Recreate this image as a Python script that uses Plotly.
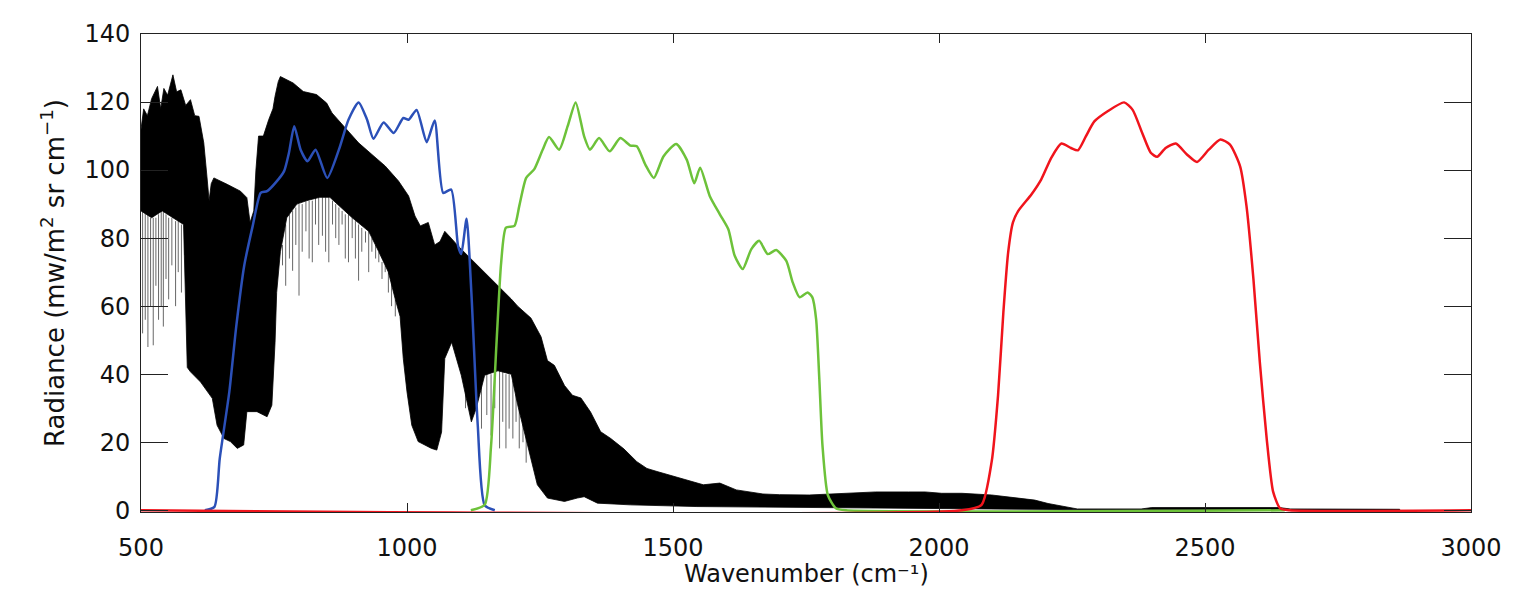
import plotly.graph_objects as go

# --- Black: high-resolution radiance spectrum, drawn as its dense band (upper/lower edges) ---
band_upper_x = [500, 505, 512, 520, 531, 537, 543, 550, 560, 567, 575, 584, 593, 601, 609, 615,
                618, 624, 628, 632, 637, 662, 687, 699, 705, 712, 716, 721, 730, 740, 748, 752,
                758, 762, 774, 786, 805, 830, 849, 859, 884, 909, 934, 959, 984, 1003, 1015,
                1025, 1040, 1052, 1062, 1071, 1083, 1096, 1121, 1146, 1171, 1196, 1208, 1233,
                1252, 1264, 1277, 1296, 1311, 1327, 1345, 1364, 1383, 1408, 1432, 1451, 1470,
                1513, 1557, 1588, 1619, 1669, 1700, 1756, 1819, 1881, 1943, 1974, 2005, 2043,
                2099, 2142, 2180, 2205, 2223, 2242, 2260, 2380, 2400, 2640, 2660, 2866]
band_upper_y = [112, 118, 116, 121, 124.6, 118, 124, 122, 128, 123, 123.6, 119, 120.7, 116, 115.8, 110,
                108, 98, 91, 96, 97.7, 95.8, 93.8, 91.9, 84.6, 88, 100, 110, 110, 114.8, 118, 121.7,
                126, 127.5, 126.5, 125.6, 123.1, 122.2, 119.7, 116.8, 112.4, 108, 104.6, 101.2, 96.8, 92.4, 86.5,
                83.6, 84.6, 78, 79, 82, 80, 77.7, 73.8, 70, 66, 62.1, 60, 56.5,
                51, 44, 42.6, 36.7, 33.8, 33, 28.9, 23.1, 21.1, 18, 14.3, 12.3, 11.4,
                9.4, 7.5, 8, 6, 4.8, 4.6, 4.5, 5, 5.4, 5.4, 5.4, 5, 5,
                4.5, 3.7, 3, 2, 1.5, 0.8, 0.4, 0.4, 0.8, 0.8, 0.4, 0.3]

band_lower_x = [500, 520, 540, 560, 580, 587, 593, 612, 634, 643, 656, 668, 681, 693, 699, 718,
                737, 746, 752, 755, 762, 774, 793, 811, 836, 855, 897, 928, 947, 965, 978, 987,
                993, 1000, 1009, 1021, 1034, 1046, 1056, 1065, 1071, 1084, 1102, 1121, 1130, 1146,
                1171, 1196, 1208, 1233, 1245, 1264, 1296, 1320, 1333, 1358, 1420, 1545, 1700, 2250, 2866]
band_lower_y = [88, 86, 88, 86, 84, 42, 40.7, 37.7, 32.9, 25, 21.1, 20.2, 18.2, 19.2, 29, 29,
                27.5, 30.9, 49.4, 64, 76, 86, 90, 91, 92, 92, 86, 82, 76, 70, 62, 57,
                44.6, 34.8, 25, 20.2, 19.2, 18.2, 17.7, 23, 44.6, 49.4, 39.7, 26, 29.9, 39.7,
                41, 40, 31, 15.3, 7.5, 3.6, 2.6, 3.6, 4, 2.1, 1.6, 1.1, 0.8, 0.2, 0.1]

# Individual deep absorption lines reaching below the dense band: (wavenumber, from, to)
line_x = [503, 508, 513, 518, 523, 528, 533, 538, 542, 547, 552, 558, 565, 570, 576, 582,
          766, 772, 779, 785, 791, 797, 803, 810, 816, 822, 828, 834, 841, 847, 853, 860,
          866, 872, 878, 884, 890, 897, 903, 909, 915, 922, 928, 934, 941, 947, 953, 959,
          965, 971, 978, 1110, 1140, 1150, 1158, 1165, 1174, 1180, 1186, 1192, 1199, 1205,
          1211, 1218, 1224]
line_top = [88, 88, 88, 86, 86, 86, 87, 88, 88, 87, 86, 86, 85, 85, 84, 84,
            78, 84, 87, 88, 89, 90, 90, 91, 91, 91, 92, 92, 92, 92, 92, 91,
            90, 89, 88, 87, 87, 86, 85, 84, 83, 82, 82, 80, 78, 76, 73, 72,
            70, 67, 62, 40, 38, 40, 40, 41, 41, 41, 40, 40, 38, 34,
            30, 26, 22]
line_bottom = [52, 56, 48, 60, 48.5, 66, 56, 60, 54, 68, 62, 72, 60, 70, 64, 75,
               72, 66, 74, 70.4, 78, 63.1, 76, 82, 74, 72.9, 84, 78, 80.7, 76, 72.9, 84,
               80, 78, 84, 74, 72.9, 80, 74, 67.5, 76, 78.7, 70, 76, 74, 72.9, 68, 70,
               64, 60, 57, 30, 24, 28, 22, 30, 18.2, 26, 18.2, 24, 21.1, 26,
               18.2, 20, 14]

# --- Coloured spectral response curves ---
blue_x = [620, 638, 648, 666, 679, 694, 710, 725, 737, 753, 769, 778, 788, 800, 813, 828,
          850, 872, 890, 909, 925, 937, 956, 975, 993, 1003, 1018, 1037, 1052, 1068, 1083,
          1096, 1102, 1112, 1121, 1133, 1146, 1165]
blue_y = [0, 1, 15.2, 34.8, 54, 71.9, 83.6, 93.3, 93.8, 96.3, 99.7, 105, 112.9, 106, 102.6, 106,
          97.7, 106, 114.8, 119.9, 114.8, 109.2, 114, 110.9, 115.3, 114.8, 117.7, 108.2, 114.6, 93.3, 94.3,
          77.7, 75.3, 85.7, 64, 25, 1.5, 0]

green_x = [1120, 1146, 1158, 1168, 1177, 1186, 1202, 1211, 1224, 1239, 1255, 1267, 1286, 1302,
           1317, 1333, 1344, 1361, 1381, 1401, 1420, 1432, 1448, 1464, 1482, 1506, 1526, 1540,
           1551, 1569, 1588, 1604, 1616, 1631, 1647, 1662, 1678, 1694, 1713, 1725, 1738, 1753,
           1762, 1769, 1775, 1781, 1791, 1806, 1825, 2650]
green_y = [0, 1.6, 19, 48.4, 72.8, 83.1, 83.6, 89.4, 97.7, 100.2, 106, 109.7, 106, 112.9,
           119.9, 109.9, 106, 109.4, 105.5, 109.4, 107.2, 107, 101.6, 97.7, 104, 107.7, 103, 96.1,
           100.7, 92.4, 87, 82.6, 74.8, 70.9, 76.7, 79.2, 75.3, 76.5, 73.3, 67, 62.6, 64,
           62.6, 56.2, 38.7, 19, 4.5, 0.6, 0, 0]

red_x = [500, 2043, 2080, 2099, 2111, 2121, 2130, 2139, 2149, 2174, 2192, 2211, 2230, 2248,
         2261, 2276, 2292, 2317, 2348, 2364, 2382, 2398, 2410, 2426, 2445, 2466, 2485, 2507,
         2529, 2547, 2566, 2578, 2591, 2603, 2616, 2628, 2641, 2659, 3000]
red_y = [0, 0, 1.6, 14.3, 33.8, 58.2, 75.8, 84.6, 88, 92.9, 97.2, 103.6, 107.8, 106.5,
         105.8, 109.9, 114.3, 117.3, 119.9, 117.7, 110.9, 105.1, 103.9, 106.5, 107.8, 104.6, 102.4, 106,
         109, 107.5, 101.1, 89.4, 68, 43.6, 21, 5.5, 0.6, 0, 0]

x_ticks = [500, 1000, 1500, 2000, 2500, 3000]
y_ticks = [0, 20, 40, 60, 80, 100, 120, 140]

fig = go.Figure()

# dense band: polygon along the upper edge, back along the lower edge
fig.add_trace(go.Scatter(
    x=band_upper_x + band_lower_x[::-1],
    y=band_upper_y + band_lower_y[::-1],
    fill="toself", fillcolor="black", mode="lines",
    line=dict(color="black", width=0.8), hoverinfo="skip", showlegend=False))

# separate absorption lines
lx, ly = [], []
for x, t, b in zip(line_x, line_top, line_bottom):
    lx += [x, x, None]
    ly += [t, b, None]
fig.add_trace(go.Scatter(x=lx, y=ly, mode="lines",
                         line=dict(color="rgba(0,0,0,0.6)", width=1),
                         hoverinfo="skip", showlegend=False))

for xs, ys, col in [(blue_x, blue_y, "#2b50b8"),
                    (green_x, green_y, "#6dc23a"),
                    (red_x, red_y, "#f0141c")]:
    fig.add_trace(go.Scatter(x=xs, y=ys, mode="lines",
                             line=dict(color=col, width=2.5, shape="spline", smoothing=0.6),
                             showlegend=False))

font = dict(family="DejaVu Sans", size=24, color="#111111")
title_font = dict(family="DejaVu Sans", size=26, color="#111111")
xtitle_font = dict(family="DejaVu Sans", size=24, color="#111111")
axis_common = dict(showline=True, linecolor="#222222", linewidth=1, mirror="ticks",
                   ticks="inside", tickcolor="#222222", tickwidth=1,
                   showgrid=False, zeroline=False, tickfont=font)

fig.update_layout(
    width=1514, height=589,
    margin=dict(l=141, r=35, t=34, b=77),
    paper_bgcolor="white", plot_bgcolor="white",
    font=font,
    xaxis=dict(range=[500, 3000], tickvals=x_ticks, ticklen=9,
               ticklabelstandoff=14, **axis_common),
    yaxis=dict(range=[-0.5, 140], tickvals=y_ticks, ticklen=27,
               ticklabelstandoff=5,
               title=dict(text="Radiance (mw/m<sup>2</sup> sr cm<sup>−1</sup>)", font=title_font, standoff=12),
               **axis_common),
    annotations=[dict(text="Wavenumber (cm⁻¹)", font=xtitle_font,
                      xref="paper", yref="paper", x=0.5, y=0,
                      xanchor="center", yanchor="top", yshift=-46, showarrow=False)],
)

fig.write_html("out.html")
